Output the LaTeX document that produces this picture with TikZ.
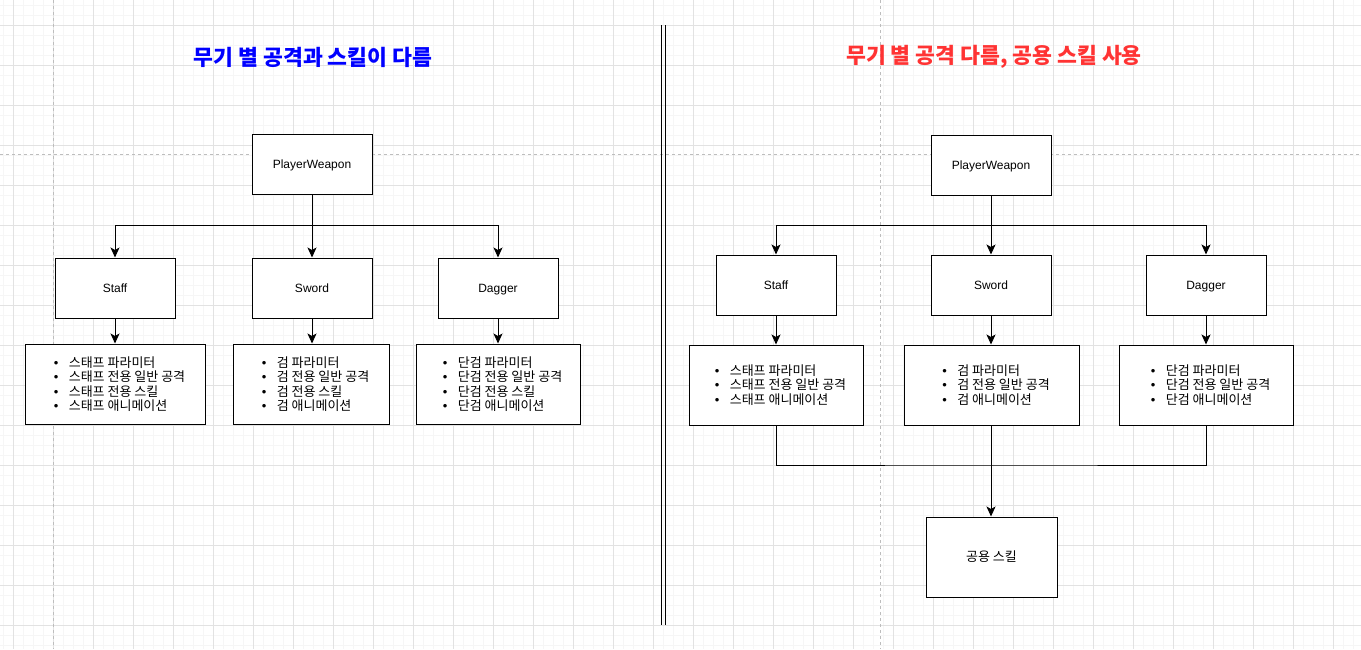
\documentclass[tikz,border=0pt]{standalone}
\usepackage{fontspec}
\setmainfont{Liberation Sans}
\newfontfamily\kr{Noto Sans CJK KR}
\usetikzlibrary{arrows.meta}
\definecolor{gmaj}{HTML}{E2E2E2}
\definecolor{gmin}{HTML}{F6F6F6}
\definecolor{pgb}{HTML}{BDBDBD}
\definecolor{ttlred}{HTML}{FF3333}
\newcommand\bl[1]{\hspace*{9pt}\makebox[15pt][l]{{\rmfamily •}}#1}
\begin{document}
\begin{tikzpicture}[x=1pt,y=-1pt,
 box/.style={draw=black, line width=1pt, fill=white, minimum width=120pt, minimum height=60pt, inner sep=0pt, text height=10.5pt, text depth=1pt, font=\fontsize{12}{14}\selectfont},
 lst/.style={draw=black, line width=1pt, fill=white, minimum height=80pt, inner sep=0pt, font=\kr\fontsize{13}{14.3}\selectfont, align=left},
 arr/.style={line width=1pt, -{Stealth[length=10pt,width=9pt,inset=2.5pt]}},
 con/.style={line width=1pt},
 ttl/.style={font=\kr\bfseries\fontsize{21.6}{26}\selectfont}]
\useasboundingbox (0,0) rectangle (1361,649);
\fill[white] (0,0) rectangle (1361,649);
% grid
\foreach \x in {3,13,...,1361} \draw[gmin, line width=1pt] (\x,0) -- (\x,649);
\foreach \y in {5,15,...,649} \draw[gmin, line width=1pt] (0,\y) -- (1361,\y);
\foreach \x in {13,53,...,1361} \draw[gmaj, line width=1pt] (\x,0) -- (\x,649);
\foreach \y in {25,65,...,649} \draw[gmaj, line width=1pt] (0,\y) -- (1361,\y);
% page breaks
\draw[pgb, line width=1pt, dash pattern=on 3pt off 3pt] (53,0) -- (53,649);
\draw[pgb, line width=1pt, dash pattern=on 3pt off 3pt] (880,0) -- (880,649);
\draw[pgb, line width=1pt, dash pattern=on 3pt off 3pt] (0,154) -- (1361,154);
% separator
\draw[line width=1pt] (661.5,25) -- (661.5,625);
\draw[line width=1pt] (665.5,25) -- (665.5,625);
% titles
\node[ttl, text=blue] (t1) at (313,57) {무기 별 공격과 스킬이 다름};
\node[ttl, text=ttlred] (t2) at (994,57) {무기 별 공격 다름, 공용 스킬 사용};
% left tree
\node[box] (pwL) at (312,164) {PlayerWeapon};
\node[box] (stL) at (115,288) {Staff};
\node[box] (swL) at (312,288) {Sword};
\node[box] (dgL) at (498,288) {Dagger};
\coordinate (bL) at (312,225);
\draw[arr] (pwL.south) |- (bL) -| (stL.north);
\draw[arr] (pwL.south) -- (swL.north);
\draw[arr] (pwL.south) |- (bL) -| (dgL.north);
\node[lst, minimum width=180pt] (lstL) at (115,384) {\bl{스태프 파라미터}\\ \bl{스태프 전용 일반 공격}\\ \bl{스태프 전용 스킬}\\ \bl{스태프 애니메이션}};
\node[lst, minimum width=156pt] (lswL) at (311,384) {\bl{검 파라미터}\\ \bl{검 전용 일반 공격}\\ \bl{검 전용 스킬}\\ \bl{검 애니메이션}};
\node[lst, minimum width=164pt] (ldgL) at (498,384) {\bl{단검 파라미터}\\ \bl{단검 전용 일반 공격}\\ \bl{단검 전용 스킬}\\ \bl{단검 애니메이션}};
\draw[arr] (stL.south) -- (lstL.north);
\draw[arr] (swL.south) -- (swL.south |- lswL.north);
\draw[arr] (dgL.south) -- (ldgL.north);
% right tree
\node[box] (pwR) at (991,165) {PlayerWeapon};
\node[box] (stR) at (776,285) {Staff};
\node[box] (swR) at (991,285) {Sword};
\node[box] (dgR) at (1206,285) {Dagger};
\coordinate (bR) at (991,225);
\draw[arr] (pwR.south) |- (bR) -| (stR.north);
\draw[arr] (pwR.south) -- (swR.north);
\draw[arr] (pwR.south) |- (bR) -| (dgR.north);
\node[lst, minimum width=174pt] (lstR) at (776,385) {\bl{스태프 파라미터}\\ \bl{스태프 전용 일반 공격}\\ \bl{스태프 애니메이션}};
\node[lst, minimum width=175pt] (lswR) at (991.5,385) {\bl{검 파라미터}\\ \bl{검 전용 일반 공격}\\ \bl{검 애니메이션}};
\node[lst, minimum width=174pt] (ldgR) at (1206,385) {\bl{단검 파라미터}\\ \bl{단검 전용 일반 공격}\\ \bl{단검 애니메이션}};
\draw[arr] (stR.south) -- (lstR.north);
\draw[arr] (swR.south) -- (swR.south |- lswR.north);
\draw[arr] (dgR.south) -- (ldgR.north);
\node[box, font=\kr\fontsize{13}{14}\selectfont, minimum width=131pt, minimum height=80pt] (cmn) at (991.5,557) {공용 스킬};
\coordinate (jR) at (991,465);
\draw[con] (lstR.south) |- (jR) -| (ldgR.south);
\draw[arr] (jR |- lswR.south) -- (jR |- cmn.north);
\end{tikzpicture}
\end{document}
